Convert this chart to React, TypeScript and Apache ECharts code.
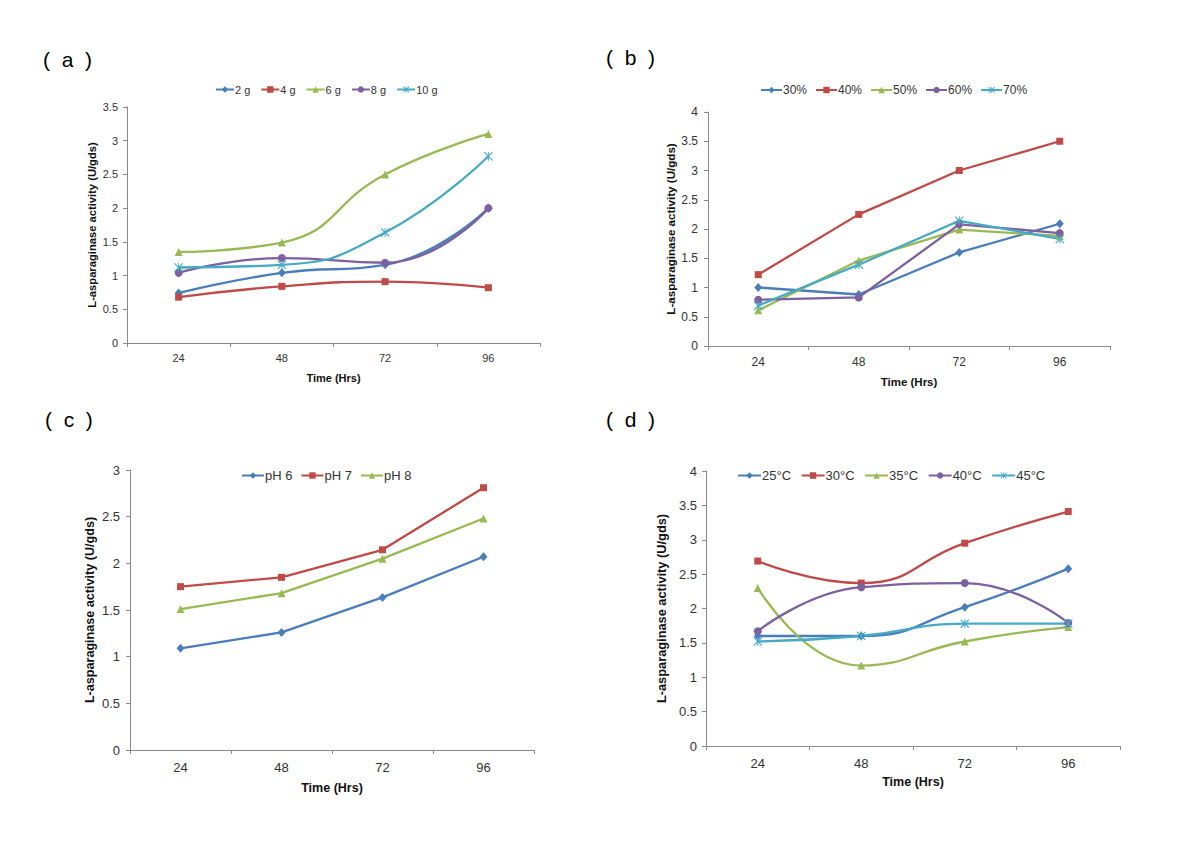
import React, { useEffect, useRef } from "react";
import * as echarts from "echarts";

// ---------- data ----------
const hours = ["24", "48", "72", "96"];

// (a) substrate amount
const namesA = ["2 g", "4 g", "6 g", "8 g", "10 g"];
const a2g = [0.74, 1.04, 1.16, 2.0];
const a4g = [0.68, 0.84, 0.91, 0.82];
const a6g = [1.35, 1.49, 2.5, 3.1];
const a8g = [1.04, 1.26, 1.19, 2.0];
const a10g = [1.12, 1.16, 1.64, 2.77];

// (b) moisture
const namesB = ["30%", "40%", "50%", "60%", "70%"];
const b30 = [1.0, 0.88, 1.6, 2.09];
const b40 = [1.22, 2.25, 3.0, 3.5];
const b50 = [0.61, 1.46, 1.99, 1.88];
const b60 = [0.79, 0.83, 2.08, 1.93];
const b70 = [0.69, 1.39, 2.14, 1.83];

// (c) pH
const namesC = ["pH 6", "pH 7", "pH 8"];
const cPh6 = [1.09, 1.26, 1.635, 2.07];
const cPh7 = [1.75, 1.85, 2.145, 2.81];
const cPh8 = [1.51, 1.68, 2.05, 2.48];

// (d) temperature
const namesD = ["25°C", "30°C", "35°C", "40°C", "45°C"];
const d25 = [1.6, 1.6, 2.02, 2.58];
const d30 = [2.69, 2.37, 2.95, 3.41];
const d35 = [2.3, 1.17, 1.52, 1.73];
const d40 = [1.67, 2.31, 2.37, 1.79];
const d45 = [1.52, 1.6, 1.78, 1.78];

const yTitle = "L-asparaginase activity (U/gds)";
const xTitle = "Time (Hrs)";

// ---------- styles ----------
const FONT = "'Liberation Sans', Arial, sans-serif";
const COLORS = ["#4A7EBB", "#BE4B48", "#98B954", "#7D60A0", "#46AAC5"];
const STAR =
  "path://M0.9,0 L10,9.1 L9.1,10 L0,0.9 Z M9.1,0 L10,0.9 L0.9,10 L0,9.1 Z M4.45,0 L5.55,0 L5.55,10 L4.45,10 Z";
const SYMBOLS = ["diamond", "rect", "triangle", "circle", STAR];
const SIZES: any[] = [[8, 9], 7, 8, 8, 9];
const AXIS_COLOR = "#8a8a8a";
const TEXT_COLOR = "#333";

function makeSeries(names: string[], data: number[][], gi: number, smooth: boolean | number) {
  return names.map((n, i) => ({
    type: "line",
    name: n,
    xAxisIndex: gi,
    yAxisIndex: gi,
    data: data[i],
    smooth,
    symbol: SYMBOLS[i],
    symbolSize: SIZES[i],
    showAllSymbol: true,
    lineStyle: { color: COLORS[i], width: 2.3 },
    itemStyle: { color: COLORS[i] },
    emphasis: { disabled: true },
  }));
}

function xAx(gi: number, fs: number, margin: number, nameGap: number, nameFs: number) {
  return {
    type: "category",
    gridIndex: gi,
    data: hours,
    boundaryGap: true,
    axisLine: { lineStyle: { color: AXIS_COLOR, width: 1 } },
    axisTick: { show: true, length: 4, lineStyle: { color: AXIS_COLOR } },
    axisLabel: { color: TEXT_COLOR, fontSize: fs, fontFamily: FONT, margin },
    name: xTitle,
    nameLocation: "middle",
    nameGap,
    nameTextStyle: { color: "#111", fontSize: nameFs, fontWeight: "bold", fontFamily: FONT },
    splitLine: { show: false },
  };
}

function yAx(gi: number, max: number, fs: number, margin: number, nameGap: number, nameFs: number) {
  return {
    type: "value",
    gridIndex: gi,
    min: 0,
    max,
    interval: 0.5,
    axisLine: { show: true, lineStyle: { color: AXIS_COLOR, width: 1 } },
    axisTick: { show: true, length: 4, lineStyle: { color: AXIS_COLOR } },
    axisLabel: { color: TEXT_COLOR, fontSize: fs, fontFamily: FONT, margin },
    splitLine: { show: false },
    name: yTitle,
    nameLocation: "middle",
    nameRotate: 90,
    nameGap,
    nameTextStyle: { color: "#111", fontSize: nameFs, fontWeight: "bold", fontFamily: FONT },
  };
}

function legend(names: string[], left: number, top: number, fs: number, w: number, gap: number) {
  return {
    data: names,
    left,
    top,
    padding: 0,
    itemWidth: w,
    itemHeight: 8,
    itemGap: gap,
    textStyle: { color: TEXT_COLOR, fontSize: fs, fontFamily: FONT, padding: [0, 0, 0, -4] },
    selectedMode: false,
  };
}

function panelLabel(text: string, x: number, y: number) {
  return {
    type: "text",
    left: x,
    top: y,
    style: { text, fill: "#000", font: `21px ${FONT}` },
  };
}

export default function App() {
  const ref = useRef<HTMLDivElement>(null);
  useEffect(() => {
    if (!ref.current) return;
    const chart = echarts.init(ref.current, undefined, { renderer: "svg" });
    const option: any = {
      animation: false,
      backgroundColor: "#fff",
      grid: [
        { left: 127, top: 107, width: 413, height: 236 },
        { left: 708, top: 112, width: 402, height: 234 },
        { left: 130, top: 470, width: 404, height: 280 },
        { left: 706, top: 471, width: 414, height: 275 },
      ],
      xAxis: [
        xAx(0, 11, 9, 29, 11),
        xAx(1, 12, 10, 30, 11.5),
        xAx(2, 13, 11, 31, 12.5),
        xAx(3, 13, 11, 29, 12.5),
      ],
      yAxis: [
        yAx(0, 3.5, 11, 9, 30, 11.2),
        yAx(1, 4, 12, 10, 32, 11.6),
        yAx(2, 3, 13, 10, 34, 12.6),
        yAx(3, 4, 13, 9, 38, 12.8),
      ],
      legend: [
        legend(namesA, 215, 84, 11, 18, 10),
        legend(namesB, 760, 84, 12, 21, 8),
        legend(namesC, 241, 469, 13, 22, 8),
        legend(namesD, 737, 469, 13, 23, 9.5),
      ],
      series: [
        ...makeSeries(namesA, [a2g, a4g, a6g, a8g, a10g], 0, 0.5),
        ...makeSeries(namesB, [b30, b40, b50, b60, b70], 1, false),
        ...makeSeries(namesC, [cPh6, cPh7, cPh8], 2, false),
        ...makeSeries(namesD, [d25, d30, d35, d40, d45], 3, 0.5),
      ],
      graphic: [
        panelLabel("(  a  )", 43, 49),
        panelLabel("(  b  )", 606, 47),
        panelLabel("(  c  )", 45, 409),
        panelLabel("(  d  )", 606, 409),
      ],
    };
    chart.setOption(option);
    return () => chart.dispose();
  }, []);
  return (
    <div
      ref={ref}
      style={{ position: "absolute", left: 0, top: 0, width: 1200, height: 847, background: "#fff" }}
    />
  );
}
